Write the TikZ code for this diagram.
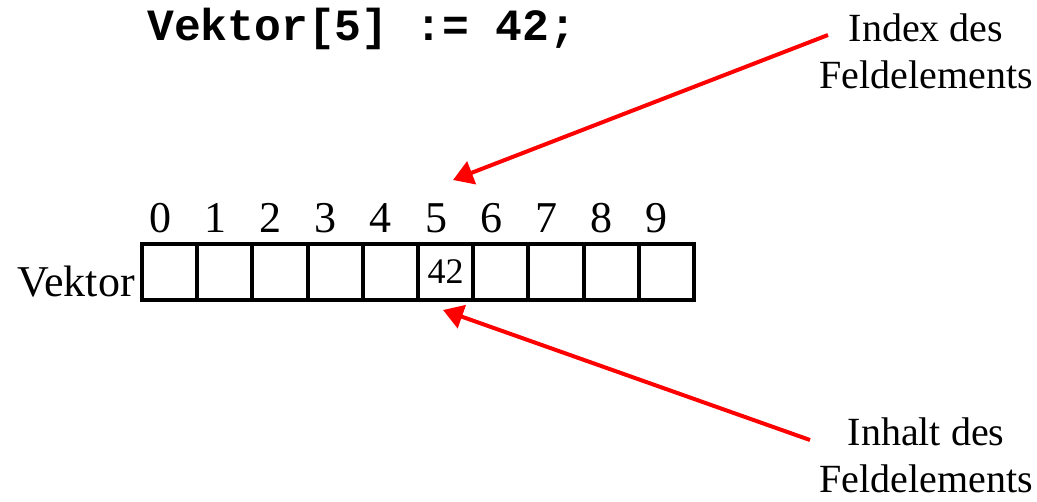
\documentclass[tikz,border=0pt]{standalone}
\usepackage{fontspec}
\setmainfont{Liberation Serif}
\setmonofont{Liberation Mono}
\usetikzlibrary{arrows.meta}
\begin{document}
\begin{tikzpicture}[x=0.75pt,y=-0.75pt,
  cell/.style={draw=black,line width=3pt,minimum width=41.4pt,minimum height=42pt,inner sep=0pt,outer sep=0pt},
  digit/.style={font=\fontsize{33pt}{36pt}\selectfont,anchor=base,inner sep=0pt},
  label/.style={font=\fontsize{30pt}{35.25pt}\selectfont,align=center,inner sep=0pt},
  pointer/.style={draw=red,line width=3pt,-{Triangle[length=15pt,width=18pt]}}]
\useasboundingbox (0,0) rectangle (1037,501);
% code line
\node[anchor=base west,inner sep=0pt,font=\fontsize{33.5pt}{36pt}\selectfont\ttfamily\bfseries] (code) at (147,40) {Vektor[5] := 42;};
% cells
\foreach \i in {0,...,9}{
  \node[cell] (c\i) at ({169.6+55.2*\i},272) {};
  \node[digit] (d\i) at ({160+55.2*\i},232) {\i};
}
\node[anchor=center,inner sep=0pt,font=\fontsize{27pt}{30pt}\selectfont] (v42) at (c5.center) {42};
\node[anchor=base east,inner sep=0pt,font=\fontsize{33pt}{36pt}\selectfont] (name) at (135,296) {Vektor};
% labels
\node[label,anchor=base] (idx) at (926,88) {Index des\\Feldelements};
\node[label,anchor=base] (inh) at (926,492) {Inhalt des\\Feldelements};
% arrows
\coordinate (idxstart) at (828,35);
\coordinate (idxtip) at (453,180);
\coordinate (inhstart) at (810,440);
\coordinate (inhtip) at (443,310);
\draw[pointer] (idxstart) -- (idxtip);
\draw[pointer] (inhstart) -- (inhtip);
\end{tikzpicture}
\end{document}
